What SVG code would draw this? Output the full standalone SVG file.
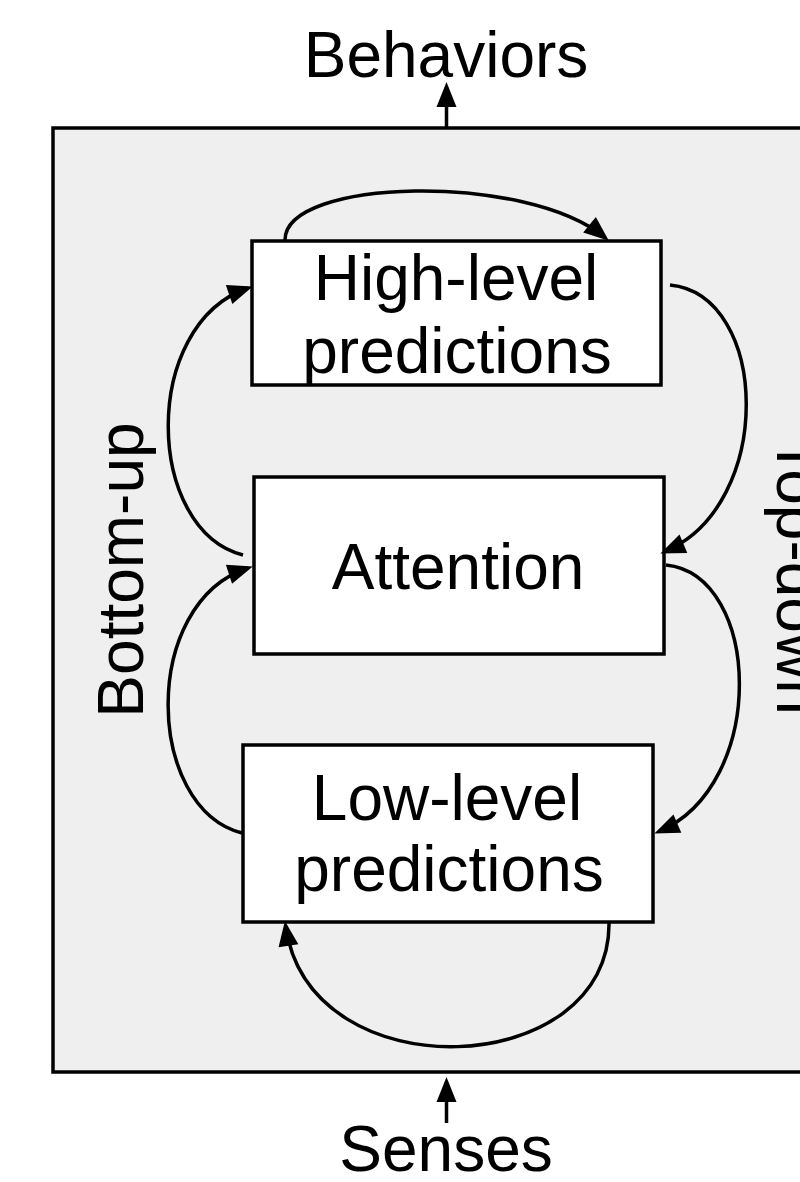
<svg xmlns="http://www.w3.org/2000/svg" width="800" height="1182" viewBox="0 0 800 1182">
  <style>
    .frame { fill: #efefef; stroke: #000; stroke-width: 3.5; }
    .box { fill: #fff; stroke: #000; stroke-width: 3.5; }
    .lbl { font-family: "Liberation Sans", Arial, sans-serif; font-size: 64px; fill: #000; text-anchor: middle; }
    .edge { fill: none; stroke: #000; stroke-width: 3.5; marker-end: url(#head); }
  </style>
  <defs>
    <marker id="head" markerUnits="userSpaceOnUse" markerWidth="26" markerHeight="21" refX="20" refY="10" orient="auto" overflow="visible">
      <path d="M0,0 L25,10 L0,20 z" fill="#000"/>
    </marker>
  </defs>

  <rect width="800" height="1182" fill="#fff"/>

  <!-- enclosing system frame -->
  <g id="frame">
    <rect class="frame" x="53" y="128" width="800" height="944"/>
  </g>

  <!-- external labels -->
  <g id="behaviors">
    <text class="lbl" x="446" y="77">Behaviors</text>
  </g>
  <g id="senses">
    <text class="lbl" x="446" y="1171">Senses</text>
  </g>
  <g id="bottom-up">
    <text class="lbl" transform="translate(143,570) rotate(-90)">Bottom-up</text>
  </g>
  <g id="top-down">
    <text class="lbl" transform="translate(777,576) rotate(90)">Top-down</text>
  </g>

  <!-- processing stages -->
  <g id="high-level">
    <rect class="box" x="252" y="241" width="409" height="144"/>
    <text class="lbl" x="456" y="300">High-level</text>
    <text class="lbl" x="457" y="373">predictions</text>
  </g>
  <g id="attention">
    <rect class="box" x="254" y="477" width="410" height="177"/>
    <text class="lbl" x="458" y="589">Attention</text>
  </g>
  <g id="low-level">
    <rect class="box" x="243" y="745" width="410" height="177"/>
    <text class="lbl" x="447" y="820">Low-level</text>
    <text class="lbl" x="449" y="891">predictions</text>
  </g>

  <!-- connectors -->
  <g id="connectors">
    <path class="edge" d="M446.5,128 L446.5,87"/>
    <path class="edge" d="M446.5,1123 L446.5,1082"/>
    <path class="edge" d="M285,240 C285,178 525,172 605,237.5"/>
    <path class="edge" d="M670,285 C770,295 775,505 665,551.5"/>
    <path class="edge" d="M666,565 C762,575 768,785 659,831.5"/>
    <path class="edge" d="M243,555 C145,530 140,325 248,288"/>
    <path class="edge" d="M242,833 C145,808 140,603 248,568"/>
    <path class="edge" d="M609,922 C612,1080 310,1095 285.6,926"/>
  </g>
</svg>
